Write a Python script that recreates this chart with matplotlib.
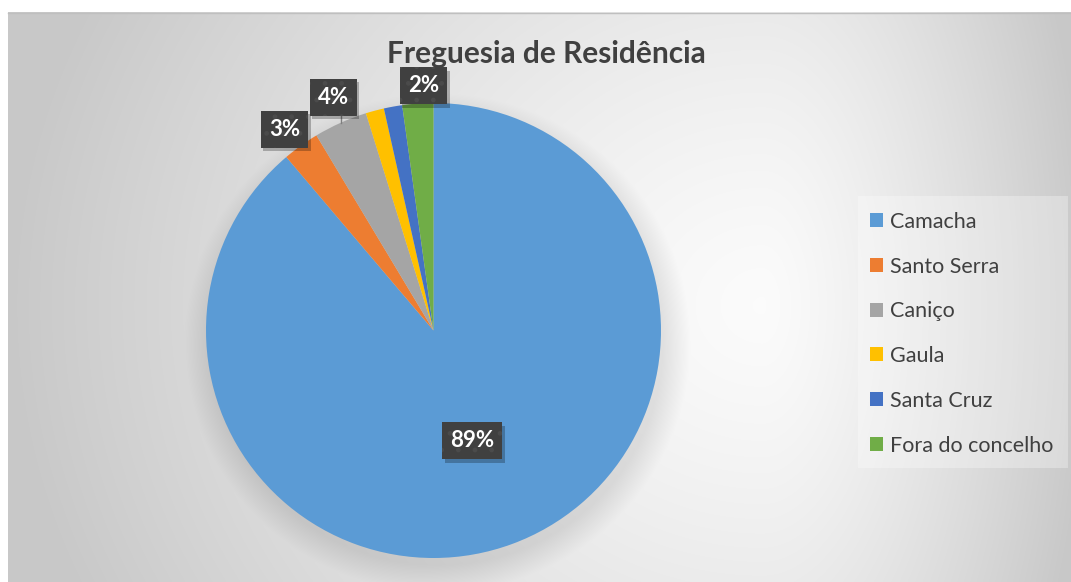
import numpy as np
import matplotlib
matplotlib.use('Agg')
import matplotlib.pyplot as plt
from matplotlib.patches import Rectangle

# Data (percentages)
categories = ['Camacha', 'Santo Serra', 'Caniço', 'Gaula', 'Santa Cruz', 'Fora do concelho']
values = [88.8, 2.6, 3.8, 1.3, 1.3, 2.2]
colors = ['#5B9BD5', '#ED7D31', '#A5A5A5', '#FFC000', '#4472C4', '#70AD47']
shown_labels = ['Camacha', 'Santo Serra', 'Caniço', 'Fora do concelho']

W, H = 1071, 582
plt.rcParams['font.family'] = ['Lato', 'DejaVu Sans']
plt.rcParams['hatch.linewidth'] = 1.0

fig = plt.figure(figsize=(W / 100, H / 100), dpi=100)

# background: chart area with soft gradient and pie shadow
bg = fig.add_axes([0, 0, 1, 1])
bg.set_xlim(0, W)
bg.set_ylim(H, 0)
bg.axis('off')
xx, yy = np.meshgrid(np.arange(W) + 0.5, np.arange(H) + 0.5)
cx = 760
tx = np.where(xx < cx, (cx - xx) / 760, (xx - cx) / 330)
ty = (yy - 300) / 700
t = np.clip(np.sqrt(tx ** 2 + ty ** 2), 0, 1) ** 1.3
shade = 0.985 - 0.2 * t
# pie shadow
pcx, pcy, pr = 433, 338, 227
dist = np.sqrt((xx - pcx) ** 2 + (yy - pcy) ** 2) - pr
shadow = np.clip(1 - dist / 28, 0, 1) * 0.09
shade = shade - shadow
img = np.dstack([shade] * 3)
bg.imshow(img, extent=[8, W, H, 12], origin='upper', zorder=0, interpolation='bilinear')
bg.plot([8, W], [12.5, 12.5], color='#bfbfbf', lw=1, zorder=1)
# legend panel
bg.add_patch(Rectangle((858, 196), 210, 272, facecolor='white', alpha=0.3,
                       edgecolor='none', zorder=1))

# pie
cxp, cyp, r = 433.5, 330.5, 227.5
ax = fig.add_axes([(cxp - r) / W, (H - cyp - r) / H, 2 * r / W, 2 * r / H])
wedges, _ = ax.pie(values, colors=colors, startangle=90, counterclock=False,
                   radius=1, wedgeprops=dict(linewidth=0))
ax.set_xlim(-1, 1)
ax.set_ylim(-1, 1)
ax.set_aspect('equal')
ax.axis('off')

# data labels
label_pos = {
    'Camacha': (0.17, -0.485),
    'Santo Serra': (-0.655, 0.885),
    'Caniço': (-0.44, 1.025),
    'Fora do concelho': (-0.044, 1.075),
}
label_texts = []
for w, name, v in zip(wedges, categories, values):
    if name not in shown_labels:
        continue
    lx, ly = label_pos[name]
    if name == 'Caniço':
        ang = np.deg2rad((w.theta1 + w.theta2) / 2)
        tip = (np.cos(ang), np.sin(ang))
        ax.plot([tip[0], tip[0]], [tip[1], ly], color='#7f7f7f', lw=1, zorder=4,
                clip_on=False)
    txt = ax.text(lx, ly, f'{v:.0f}%', ha='center', va='center',
                  fontsize=16, fontweight='bold', color='white', zorder=5,
                  bbox=dict(boxstyle='square,pad=0.36', facecolor='#404040',
                            edgecolor='#4b4b4b', linewidth=0, hatch='.'))
    label_texts.append(txt)

# title
fig.text(546 / W, 1 - 54 / H, 'Freguesia de Residência', ha='center', va='center',
         fontsize=21.5, fontweight='bold', color='#404040')

# legend
leg = fig.legend(wedges, categories, loc='upper left',
                 bbox_to_anchor=(859 / W, 1 - 201 / H), frameon=False,
                 fontsize=15.5, handlelength=0.62, handleheight=0.62, handletextpad=0.3,
                 labelspacing=1.15, borderpad=0, labelcolor='#404040')

# drop shadows behind the label boxes
fig.canvas.draw()
for txt in label_texts:
    ext = txt.get_bbox_patch().get_window_extent()
    ax.add_patch(Rectangle((ext.x0 + 2.5, ext.y0 - 3.5), ext.width, ext.height,
                           transform=None, facecolor='black', alpha=0.25,
                           edgecolor='none', zorder=4.5, clip_on=False))

fig.savefig('out.png', dpi=100)
